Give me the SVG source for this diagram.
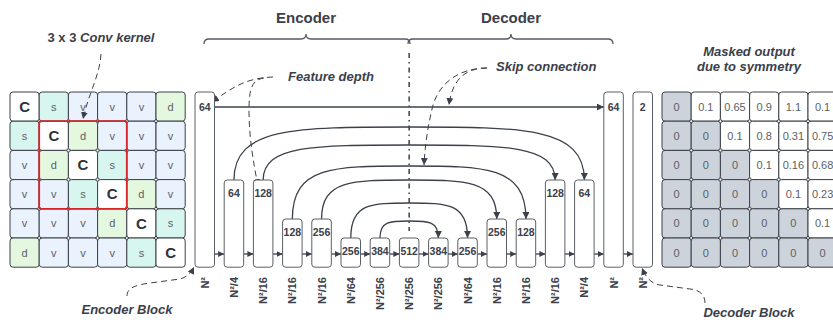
<svg xmlns="http://www.w3.org/2000/svg" width="833" height="322" viewBox="0 0 833 322">
<style>
.title{font-family:"Liberation Sans",Arial,sans-serif;font-size:15px;font-weight:bold;fill:#3b404a;text-anchor:middle}
.note{font-family:"Liberation Sans",Arial,sans-serif;font-size:13px;font-weight:bold;font-style:italic;fill:#3b404a}
.cell{stroke:#3c4048;stroke-width:1;}
.v{fill:#eaf2fe}.s{fill:#d8f6f0}.d{fill:#e4f8e0}.w{fill:#ffffff}.g{fill:#cdd3da}
.ct{font-family:"Liberation Sans",Arial,sans-serif;font-size:11px;fill:#5a5f66;text-anchor:middle}
.cb{font-family:"Liberation Sans",Arial,sans-serif;font-size:15px;font-weight:bold;fill:#2e3238;text-anchor:middle}
.blk{fill:#ffffff;stroke:#5a5f66;stroke-width:1}
.bn{font-family:"Liberation Sans",Arial,sans-serif;font-size:10.5px;font-weight:bold;fill:#3b404a;text-anchor:middle}
.lab{font-family:"Liberation Sans",Arial,sans-serif;font-size:11px;font-weight:bold;fill:#3b404a;text-anchor:end}
.con{fill:none;stroke:#3b404a;stroke-width:1.3}
.dash{fill:none;stroke:#3b404a;stroke-width:1;stroke-dasharray:6 4}
.brace{fill:none;stroke:#555a62;stroke-width:1.3}
</style>
<defs>
<marker id="ah" viewBox="0 0 10 10" refX="10" refY="5" markerWidth="7" markerHeight="7" markerUnits="userSpaceOnUse" orient="auto"><path d="M0,0 L10,5 L0,10 z" fill="#3b404a"/></marker>
<marker id="as" viewBox="0 0 10 10" refX="10" refY="5" markerWidth="6" markerHeight="6" markerUnits="userSpaceOnUse" orient="auto"><path d="M0,0 L10,5 L0,10 z" fill="#3b404a"/></marker>
</defs>

<text class="title" x="306" y="23">Encoder</text>
<text class="title" x="511" y="23">Decoder</text>
<path class="brace" d="M204 44 Q204 39 209 39 L301 39 Q306 39 306 34 Q306 39 311 39 L405 39 Q410 39 410 44"/>
<path class="brace" d="M408 44 Q408 39 413 39 L506 39 Q511 39 511 34 Q511 39 516 39 L608 39 Q613 39 613 44"/>

<text class="note" x="101" y="42" text-anchor="middle"><tspan font-style="normal">3 x 3 </tspan>Conv kernel</text>
<text class="note" x="288" y="81">Feature depth</text>
<text class="note" x="496" y="71">Skip connection</text>
<text class="note" x="749" y="56" text-anchor="middle">Masked output</text>
<text class="note" x="749" y="71" text-anchor="middle">due to symmetry</text>
<text class="note" x="127" y="314" text-anchor="middle">Encoder Block</text>
<text class="note" x="749" y="317" text-anchor="middle">Decoder Block</text>

<g id="input-grid">
<rect class="cell w" x="10" y="92" width="29.2" height="29.2" rx="3"/><text class="cb" x="24.6" y="111.8">C</text>
<rect class="cell s" x="39.2" y="92" width="29.2" height="29.2" rx="3"/><text class="ct" x="53.8" y="110.6">s</text>
<rect class="cell v" x="68.4" y="92" width="29.2" height="29.2" rx="3"/><text class="ct" x="83" y="110.6">v</text>
<rect class="cell v" x="97.6" y="92" width="29.2" height="29.2" rx="3"/><text class="ct" x="112.2" y="110.6">v</text>
<rect class="cell v" x="126.8" y="92" width="29.2" height="29.2" rx="3"/><text class="ct" x="141.4" y="110.6">v</text>
<rect class="cell d" x="156" y="92" width="29.2" height="29.2" rx="3"/><text class="ct" x="170.6" y="110.6">d</text>

<rect class="cell s" x="10" y="121.2" width="29.2" height="29.2" rx="3"/><text class="ct" x="24.6" y="139.8">s</text>
<rect class="cell w" x="39.2" y="121.2" width="29.2" height="29.2" rx="3"/><text class="cb" x="53.8" y="141">C</text>
<rect class="cell d" x="68.4" y="121.2" width="29.2" height="29.2" rx="3"/><text class="ct" x="83" y="139.8">d</text>
<rect class="cell v" x="97.6" y="121.2" width="29.2" height="29.2" rx="3"/><text class="ct" x="112.2" y="139.8">v</text>
<rect class="cell v" x="126.8" y="121.2" width="29.2" height="29.2" rx="3"/><text class="ct" x="141.4" y="139.8">v</text>
<rect class="cell v" x="156" y="121.2" width="29.2" height="29.2" rx="3"/><text class="ct" x="170.6" y="139.8">v</text>

<rect class="cell v" x="10" y="150.4" width="29.2" height="29.2" rx="3"/><text class="ct" x="24.6" y="169">v</text>
<rect class="cell d" x="39.2" y="150.4" width="29.2" height="29.2" rx="3"/><text class="ct" x="53.8" y="169">d</text>
<rect class="cell w" x="68.4" y="150.4" width="29.2" height="29.2" rx="3"/><text class="cb" x="83" y="170.2">C</text>
<rect class="cell s" x="97.6" y="150.4" width="29.2" height="29.2" rx="3"/><text class="ct" x="112.2" y="169">s</text>
<rect class="cell v" x="126.8" y="150.4" width="29.2" height="29.2" rx="3"/><text class="ct" x="141.4" y="169">v</text>
<rect class="cell v" x="156" y="150.4" width="29.2" height="29.2" rx="3"/><text class="ct" x="170.6" y="169">v</text>

<rect class="cell v" x="10" y="179.6" width="29.2" height="29.2" rx="3"/><text class="ct" x="24.6" y="198.2">v</text>
<rect class="cell v" x="39.2" y="179.6" width="29.2" height="29.2" rx="3"/><text class="ct" x="53.8" y="198.2">v</text>
<rect class="cell s" x="68.4" y="179.6" width="29.2" height="29.2" rx="3"/><text class="ct" x="83" y="198.2">s</text>
<rect class="cell w" x="97.6" y="179.6" width="29.2" height="29.2" rx="3"/><text class="cb" x="112.2" y="199.4">C</text>
<rect class="cell d" x="126.8" y="179.6" width="29.2" height="29.2" rx="3"/><text class="ct" x="141.4" y="198.2">d</text>
<rect class="cell v" x="156" y="179.6" width="29.2" height="29.2" rx="3"/><text class="ct" x="170.6" y="198.2">v</text>

<rect class="cell v" x="10" y="208.8" width="29.2" height="29.2" rx="3"/><text class="ct" x="24.6" y="227.4">v</text>
<rect class="cell v" x="39.2" y="208.8" width="29.2" height="29.2" rx="3"/><text class="ct" x="53.8" y="227.4">v</text>
<rect class="cell v" x="68.4" y="208.8" width="29.2" height="29.2" rx="3"/><text class="ct" x="83" y="227.4">v</text>
<rect class="cell d" x="97.6" y="208.8" width="29.2" height="29.2" rx="3"/><text class="ct" x="112.2" y="227.4">d</text>
<rect class="cell w" x="126.8" y="208.8" width="29.2" height="29.2" rx="3"/><text class="cb" x="141.4" y="228.6">C</text>
<rect class="cell s" x="156" y="208.8" width="29.2" height="29.2" rx="3"/><text class="ct" x="170.6" y="227.4">s</text>

<rect class="cell d" x="10" y="238" width="29.2" height="29.2" rx="3"/><text class="ct" x="24.6" y="256.6">d</text>
<rect class="cell v" x="39.2" y="238" width="29.2" height="29.2" rx="3"/><text class="ct" x="53.8" y="256.6">v</text>
<rect class="cell v" x="68.4" y="238" width="29.2" height="29.2" rx="3"/><text class="ct" x="83" y="256.6">v</text>
<rect class="cell v" x="97.6" y="238" width="29.2" height="29.2" rx="3"/><text class="ct" x="112.2" y="256.6">v</text>
<rect class="cell s" x="126.8" y="238" width="29.2" height="29.2" rx="3"/><text class="ct" x="141.4" y="256.6">s</text>
<rect class="cell w" x="156" y="238" width="29.2" height="29.2" rx="3"/><text class="cb" x="170.6" y="257.8">C</text>

<rect x="39.2" y="121.2" width="87.6" height="87.6" rx="2" fill="none" stroke="#d9262a" stroke-width="1.8"/>
</g>

<g id="output-grid">
<rect class="cell g" x="662" y="92" width="29.2" height="29.2" rx="3"/><text class="ct" x="676.6" y="110.6">0</text>
<rect class="cell w" x="691.2" y="92" width="29.2" height="29.2" rx="3"/><text class="ct" x="705.8" y="110.6">0.1</text>
<rect class="cell w" x="720.4" y="92" width="29.2" height="29.2" rx="3"/><text class="ct" x="735" y="110.6">0.65</text>
<rect class="cell w" x="749.6" y="92" width="29.2" height="29.2" rx="3"/><text class="ct" x="764.2" y="110.6">0.9</text>
<rect class="cell w" x="778.8" y="92" width="29.2" height="29.2" rx="3"/><text class="ct" x="793.4" y="110.6">1.1</text>
<rect class="cell w" x="808" y="92" width="29.2" height="29.2" rx="3"/><text class="ct" x="822.6" y="110.6">0.1</text>

<rect class="cell g" x="662" y="121.2" width="29.2" height="29.2" rx="3"/><text class="ct" x="676.6" y="139.8">0</text>
<rect class="cell g" x="691.2" y="121.2" width="29.2" height="29.2" rx="3"/><text class="ct" x="705.8" y="139.8">0</text>
<rect class="cell w" x="720.4" y="121.2" width="29.2" height="29.2" rx="3"/><text class="ct" x="735" y="139.8">0.1</text>
<rect class="cell w" x="749.6" y="121.2" width="29.2" height="29.2" rx="3"/><text class="ct" x="764.2" y="139.8">0.8</text>
<rect class="cell w" x="778.8" y="121.2" width="29.2" height="29.2" rx="3"/><text class="ct" x="793.4" y="139.8">0.31</text>
<rect class="cell w" x="808" y="121.2" width="29.2" height="29.2" rx="3"/><text class="ct" x="822.6" y="139.8">0.75</text>

<rect class="cell g" x="662" y="150.4" width="29.2" height="29.2" rx="3"/><text class="ct" x="676.6" y="169">0</text>
<rect class="cell g" x="691.2" y="150.4" width="29.2" height="29.2" rx="3"/><text class="ct" x="705.8" y="169">0</text>
<rect class="cell g" x="720.4" y="150.4" width="29.2" height="29.2" rx="3"/><text class="ct" x="735" y="169">0</text>
<rect class="cell w" x="749.6" y="150.4" width="29.2" height="29.2" rx="3"/><text class="ct" x="764.2" y="169">0.1</text>
<rect class="cell w" x="778.8" y="150.4" width="29.2" height="29.2" rx="3"/><text class="ct" x="793.4" y="169">0.16</text>
<rect class="cell w" x="808" y="150.4" width="29.2" height="29.2" rx="3"/><text class="ct" x="822.6" y="169">0.68</text>

<rect class="cell g" x="662" y="179.6" width="29.2" height="29.2" rx="3"/><text class="ct" x="676.6" y="198.2">0</text>
<rect class="cell g" x="691.2" y="179.6" width="29.2" height="29.2" rx="3"/><text class="ct" x="705.8" y="198.2">0</text>
<rect class="cell g" x="720.4" y="179.6" width="29.2" height="29.2" rx="3"/><text class="ct" x="735" y="198.2">0</text>
<rect class="cell g" x="749.6" y="179.6" width="29.2" height="29.2" rx="3"/><text class="ct" x="764.2" y="198.2">0</text>
<rect class="cell w" x="778.8" y="179.6" width="29.2" height="29.2" rx="3"/><text class="ct" x="793.4" y="198.2">0.1</text>
<rect class="cell w" x="808" y="179.6" width="29.2" height="29.2" rx="3"/><text class="ct" x="822.6" y="198.2">0.23</text>

<rect class="cell g" x="662" y="208.8" width="29.2" height="29.2" rx="3"/><text class="ct" x="676.6" y="227.4">0</text>
<rect class="cell g" x="691.2" y="208.8" width="29.2" height="29.2" rx="3"/><text class="ct" x="705.8" y="227.4">0</text>
<rect class="cell g" x="720.4" y="208.8" width="29.2" height="29.2" rx="3"/><text class="ct" x="735" y="227.4">0</text>
<rect class="cell g" x="749.6" y="208.8" width="29.2" height="29.2" rx="3"/><text class="ct" x="764.2" y="227.4">0</text>
<rect class="cell g" x="778.8" y="208.8" width="29.2" height="29.2" rx="3"/><text class="ct" x="793.4" y="227.4">0</text>
<rect class="cell w" x="808" y="208.8" width="29.2" height="29.2" rx="3"/><text class="ct" x="822.6" y="227.4">0.1</text>

<rect class="cell g" x="662" y="238" width="29.2" height="29.2" rx="3"/><text class="ct" x="676.6" y="256.6">0</text>
<rect class="cell g" x="691.2" y="238" width="29.2" height="29.2" rx="3"/><text class="ct" x="705.8" y="256.6">0</text>
<rect class="cell g" x="720.4" y="238" width="29.2" height="29.2" rx="3"/><text class="ct" x="735" y="256.6">0</text>
<rect class="cell g" x="749.6" y="238" width="29.2" height="29.2" rx="3"/><text class="ct" x="764.2" y="256.6">0</text>
<rect class="cell g" x="778.8" y="238" width="29.2" height="29.2" rx="3"/><text class="ct" x="793.4" y="256.6">0</text>
<rect class="cell g" x="808" y="238" width="29.2" height="29.2" rx="3"/><text class="ct" x="822.6" y="256.6">0</text>
</g>

<line x1="409.15" y1="53" x2="409.15" y2="231" stroke="#3b404a" stroke-width="1.5" stroke-dasharray="5 4 1.5 4"/>

<g id="connectors">
<line class="con" x1="214.5" y1="107" x2="603.8" y2="107" marker-end="url(#ah)"/>
<path class="con" d="M233.95 180 C233.95 127 295.27 127 409.15 127 C523.03 127 584.35 127 584.35 180" marker-end="url(#ah)"/>
<path class="con" d="M263.15 180 C263.15 145 314.25 145 409.15 145 C504.05 145 555.15 145 555.15 180" marker-end="url(#ah)"/>
<path class="con" d="M292.35 219 C292.35 166 333.23 166 409.15 166 C485.07 166 525.95 166 525.95 219" marker-end="url(#ah)"/>
<path class="con" d="M321.55 219 C321.55 180 352.21 180 409.15 180 C466.09 180 496.75 180 496.75 219" marker-end="url(#ah)"/>
<path class="con" d="M350.75 238 C350.75 203 371.19 203 409.15 203 C447.11 203 467.55 203 467.55 238" marker-end="url(#ah)"/>
<path class="con" d="M379.95 238 C379.95 221 390.17 221 409.15 221 C428.13 221 438.35 221 438.35 238" marker-end="url(#ah)"/>
<line class="con" x1="214.5" y1="254" x2="224.2" y2="254" marker-end="url(#as)"/>
<line class="con" x1="243.7" y1="254" x2="253.4" y2="254" marker-end="url(#as)"/>
<line class="con" x1="272.9" y1="254" x2="282.6" y2="254" marker-end="url(#as)"/>
<line class="con" x1="302.1" y1="254" x2="311.8" y2="254" marker-end="url(#as)"/>
<line class="con" x1="331.3" y1="254" x2="341" y2="254" marker-end="url(#as)"/>
<line class="con" x1="360.5" y1="254" x2="370.2" y2="254" marker-end="url(#as)"/>
<line class="con" x1="389.7" y1="254" x2="399.4" y2="254" marker-end="url(#as)"/>
<line class="con" x1="418.9" y1="254" x2="428.6" y2="254" marker-end="url(#as)"/>
<line class="con" x1="448.1" y1="254" x2="457.8" y2="254" marker-end="url(#as)"/>
<line class="con" x1="477.3" y1="254" x2="487" y2="254" marker-end="url(#as)"/>
<line class="con" x1="506.5" y1="254" x2="516.2" y2="254" marker-end="url(#as)"/>
<line class="con" x1="535.7" y1="254" x2="545.4" y2="254" marker-end="url(#as)"/>
<line class="con" x1="564.9" y1="254" x2="574.6" y2="254" marker-end="url(#as)"/>
<line class="con" x1="594.1" y1="254" x2="603.8" y2="254" marker-end="url(#as)"/>
<line class="con" x1="623.3" y1="254" x2="633" y2="254" marker-end="url(#as)"/>

<path class="dash" d="M101 54 C100 75 88 95 83 119" marker-end="url(#ah)"/>
<path class="dash" d="M273 77 C245 78 232 88 212 102" marker-end="url(#ah)"/>
<path class="dash" d="M264 78 C252 80 249 88 249 110 C249 140 254 165 258 186" marker-end="url(#ah)"/>
<path class="dash" d="M487 68 C465 68 452 80 449 105" marker-end="url(#ah)"/>
<path class="dash" d="M487 68 C460 68 440 82 433 105 C428 125 425 145 424 165" marker-end="url(#ah)"/>
<path class="dash" d="M127 296 C127 288 135 285 150 283 L180 279 C187 277 191 273 194 267" marker-end="url(#ah)"/>
<path class="dash" d="M705 303 C705 295 700 290 690 289 L660 285 C652 284 646 278 642 268" marker-end="url(#ah)"/>
</g>

<g id="b1"><rect class="blk" x="195" y="92" width="19.5" height="175.2" rx="3"/><text class="bn" x="204.75" y="111">64</text><text class="lab" transform="translate(208.75 277) rotate(-90)">N²</text></g>
<g id="b2"><rect class="blk" x="224.2" y="180" width="19.5" height="87.2" rx="3"/><text class="bn" x="233.95" y="197">64</text><text class="lab" transform="translate(237.95 277) rotate(-90)">N²/4</text></g>
<g id="b3"><rect class="blk" x="253.4" y="180" width="19.5" height="87.2" rx="3"/><text class="bn" x="263.15" y="197">128</text><text class="lab" transform="translate(267.15 277) rotate(-90)">N²/16</text></g>
<g id="b4"><rect class="blk" x="282.6" y="219" width="19.5" height="48.2" rx="3"/><text class="bn" x="292.35" y="236">128</text><text class="lab" transform="translate(296.35 277) rotate(-90)">N²/16</text></g>
<g id="b5"><rect class="blk" x="311.8" y="219" width="19.5" height="48.2" rx="3"/><text class="bn" x="321.55" y="236">256</text><text class="lab" transform="translate(325.55 277) rotate(-90)">N²/16</text></g>
<g id="b6"><rect class="blk" x="341" y="238" width="19.5" height="29.2" rx="3"/><text class="bn" x="350.75" y="255">256</text><text class="lab" transform="translate(354.75 277) rotate(-90)">N²/64</text></g>
<g id="b7"><rect class="blk" x="370.2" y="238" width="19.5" height="29.2" rx="3"/><text class="bn" x="379.95" y="255">384</text><text class="lab" transform="translate(383.95 277) rotate(-90)">N²/256</text></g>
<g id="b8"><rect class="blk" x="399.4" y="238" width="19.5" height="29.2" rx="3"/><text class="bn" x="409.15" y="255">512</text><text class="lab" transform="translate(413.15 277) rotate(-90)">N²/256</text></g>
<g id="b9"><rect class="blk" x="428.6" y="238" width="19.5" height="29.2" rx="3"/><text class="bn" x="438.35" y="255">384</text><text class="lab" transform="translate(442.35 277) rotate(-90)">N²/256</text></g>
<g id="b10"><rect class="blk" x="457.8" y="238" width="19.5" height="29.2" rx="3"/><text class="bn" x="467.55" y="255">256</text><text class="lab" transform="translate(471.55 277) rotate(-90)">N²/64</text></g>
<g id="b11"><rect class="blk" x="487" y="219" width="19.5" height="48.2" rx="3"/><text class="bn" x="496.75" y="236">256</text><text class="lab" transform="translate(500.75 277) rotate(-90)">N²/16</text></g>
<g id="b12"><rect class="blk" x="516.2" y="219" width="19.5" height="48.2" rx="3"/><text class="bn" x="525.95" y="236">128</text><text class="lab" transform="translate(529.95 277) rotate(-90)">N²/16</text></g>
<g id="b13"><rect class="blk" x="545.4" y="180" width="19.5" height="87.2" rx="3"/><text class="bn" x="555.15" y="197">128</text><text class="lab" transform="translate(559.15 277) rotate(-90)">N²/16</text></g>
<g id="b14"><rect class="blk" x="574.6" y="180" width="19.5" height="87.2" rx="3"/><text class="bn" x="584.35" y="197">64</text><text class="lab" transform="translate(588.35 277) rotate(-90)">N²/4</text></g>
<g id="b15"><rect class="blk" x="603.8" y="92" width="19.5" height="175.2" rx="3"/><text class="bn" x="613.55" y="111">64</text><text class="lab" transform="translate(617.55 277) rotate(-90)">N²</text></g>
<g id="b16"><rect class="blk" x="633" y="92" width="19.5" height="175.2" rx="3"/><text class="bn" x="642.75" y="111">2</text><text class="lab" transform="translate(646.75 277) rotate(-90)">N²</text></g>
</svg>
